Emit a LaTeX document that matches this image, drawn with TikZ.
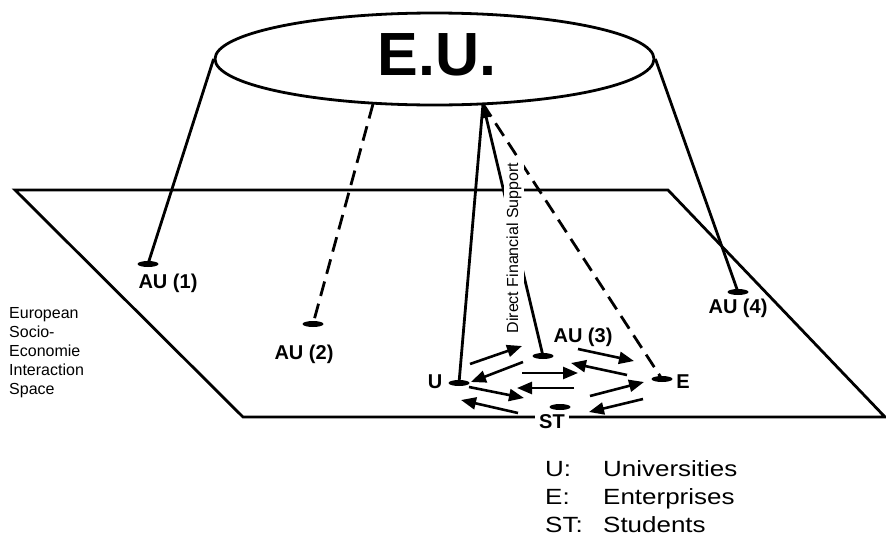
\documentclass[tikz,border=0pt]{standalone}
\usepackage{fontspec}
\setmainfont{Liberation Sans}
\usetikzlibrary{shapes.geometric,arrows.meta}
\newcommand{\lgd}[1]{\scalebox{1.18}[1]{#1}}
\begin{document}
\begin{tikzpicture}[x=1pt,y=-1pt,
  every node/.style={inner sep=0pt},
  edge/.style={line width=2.8pt},
  dashedge/.style={line width=2.8pt, dash pattern=on 15pt off 8pt},
  foot/.style={ellipse, fill=black, minimum width=21pt, minimum height=6pt, inner sep=0pt},
  aulabel/.style={font=\bfseries\fontsize{20}{24}\selectfont, anchor=base},
  flow/.style={line width=2.6pt, -{Triangle[length=15pt,width=12pt]}},
  legend/.style={font=\fontsize{22}{26}\selectfont, anchor=base west},
  plane/.style={line width=2.8pt, line join=miter}
]
\useasboundingbox (0,0) rectangle (886,536);

% plane
\coordinate (p1) at (15,190);
\coordinate (p2) at (668,190);
\coordinate (p3) at (885,417);
\coordinate (p4) at (243,417);
\draw[plane] (p1) -- (p2) -- (p3) -- (p4) -- cycle;

% E.U. ellipse
\node[draw, ellipse, line width=2.8pt, minimum width=439pt, minimum height=92pt] (eu) at (434.5,59) {};
\node[font=\bfseries\fontsize{61}{61}\selectfont] (eutxt) at (437,54.5) {E.U.};
\coordinate (eu2) at (373,104);
\coordinate (eu3) at (483,104);

% footprints
\node[foot] (f1) at (148,264) {};
\node[foot] (f2) at (313,324) {};
\node[foot] (fu) at (459,383) {};
\node[foot] (f3) at (543,356) {};
\node[foot] (fe) at (662,379) {};
\node[foot] (f4) at (738,292) {};

% connectors from E.U.
\draw[edge] (eu.west) -- (f1.center);
\draw[dashedge] (eu2) -- (f2.center);
\draw[edge] (eu3) -- (fu.center);
\draw[edge, {Triangle[length=14pt,width=7pt]}-] (eu3) -- (f3.center);
\draw[dashedge] (eu3) -- (fe.center);
\draw[edge] (eu.east) -- (f4.center);

% Direct Financial Support label (covers lines)
\node[rotate=90, fill=white, inner xsep=2pt, inner ysep=3pt, font=\fontsize{16}{19}\selectfont] (dfs) at (514,248) {Direct Financial Support};

% labels
\node[aulabel] (au1) at (168,288) {AU (1)};
\node[aulabel] (au2) at (304,359) {AU (2)};
\node[aulabel] (au3) at (583,342) {AU (3)};
\node[aulabel] (au4) at (738,313) {AU (4)};
\node[aulabel] (lu) at (435,388) {U};
\node[aulabel] (le) at (683,388) {E};
\node[aulabel, fill=white, inner xsep=4pt, inner ysep=1pt] (lst) at (552,428) {ST};
\node[foot] (fst) at (560,407) {};

% interaction arrows
\coordinate (a1s) at (470,364); \coordinate (a1e) at (522,346);
\coordinate (a2s) at (523,362); \coordinate (a2e) at (471,382);
\coordinate (a3s) at (522,373); \coordinate (a3e) at (578,373);
\coordinate (a4s) at (578,349); \coordinate (a4e) at (634,361);
\coordinate (a5s) at (627,375); \coordinate (a5e) at (571,363);
\coordinate (a6s) at (574,388); \coordinate (a6e) at (517,388);
\coordinate (a7s) at (469,387); \coordinate (a7e) at (524,398);
\coordinate (a8s) at (518,413); \coordinate (a8e) at (461,400);
\coordinate (a9s) at (590,396); \coordinate (a9e) at (644,382);
\coordinate (a10s) at (643,399); \coordinate (a10e) at (589,412);
\draw[flow] (a1s) -- (a1e);
\draw[flow] (a2s) -- (a2e);
\draw[flow] (a3s) -- (a3e);
\draw[flow] (a4s) -- (a4e);
\draw[flow] (a5s) -- (a5e);
\draw[flow] (a6s) -- (a6e);
\draw[flow] (a7s) -- (a7e);
\draw[flow] (a8s) -- (a8e);
\draw[flow] (a9s) -- (a9e);
\draw[flow] (a10s) -- (a10e);

% side text
\node[anchor=north west, align=left, font=\fontsize{16}{19}\selectfont] (space) at (9,307)
  {European\\Socio-\\Economie\\Interaction\\Space};

% legend
\node[legend] (k1) at (545,476) {\lgd{U:}};
\node[legend] (v1) at (603,476) {\lgd{Universities}};
\node[legend] (k2) at (545,504) {\lgd{E:}};
\node[legend] (v2) at (603,504) {\lgd{Enterprises}};
\node[legend] (k3) at (545,532) {\lgd{ST:}};
\node[legend] (v3) at (603,532) {\lgd{Students}};
\end{tikzpicture}
\end{document}
